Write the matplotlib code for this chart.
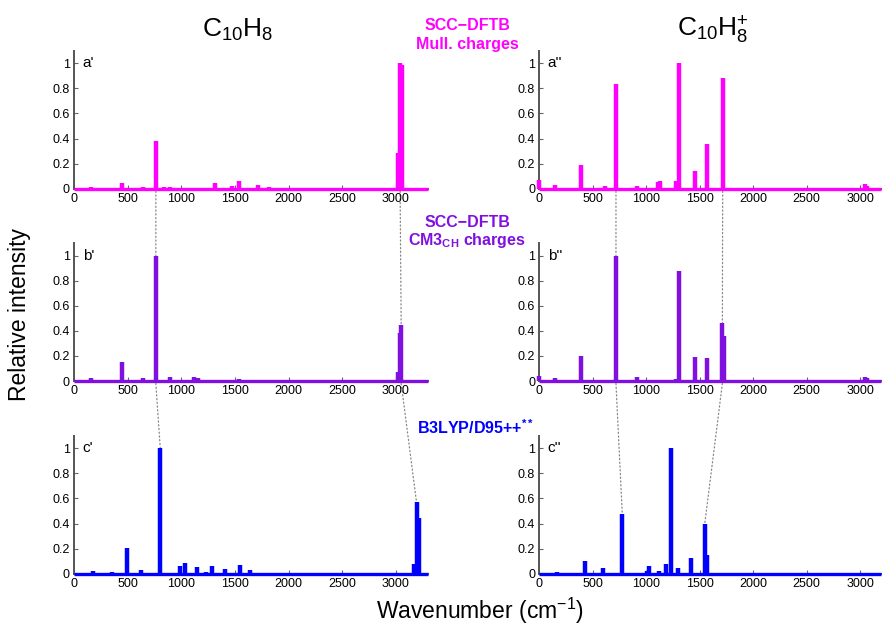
import matplotlib
matplotlib.use("Agg")
import matplotlib.pyplot as plt
from matplotlib.patches import ConnectionPatch

plt.rcParams['font.family'] = ['Liberation Sans', 'DejaVu Sans']
plt.rcParams['mathtext.fontset'] = 'custom'
plt.rcParams['mathtext.rm'] = 'Liberation Sans'
plt.rcParams['mathtext.it'] = 'Liberation Sans:italic'
plt.rcParams['mathtext.bf'] = 'Liberation Sans:bold'

# ---- data: peak positions (cm^-1) and relative intensities ----
a1_x = [159, 367, 452, 639, 763, 835, 897, 1110, 1318, 1473, 1536, 1716, 1816, 3016, 3040, 3056]
a1_y = [0.01, 0.005, 0.048, 0.015, 0.38, 0.01, 0.015, 0.005, 0.045, 0.025, 0.06, 0.03, 0.015, 0.285, 1.0, 0.99]

b1_x = [159, 367, 445, 639, 763, 897, 1115, 1156, 1536, 3016, 3037, 3050]
b1_y = [0.02, 0.01, 0.155, 0.02, 1.0, 0.03, 0.035, 0.025, 0.015, 0.07, 0.385, 0.445]

c1_x = [181, 358, 498, 629, 804, 991, 1031, 1146, 1234, 1287, 1411, 1548, 1639, 3171, 3193, 3218]
c1_y = [0.025, 0.015, 0.205, 0.03, 1.0, 0.06, 0.085, 0.055, 0.012, 0.065, 0.038, 0.073, 0.027, 0.077, 0.57, 0.447]

a2_x = [0, 147, 387, 614, 717, 823, 910, 1107, 1132, 1275, 1303, 1456, 1572, 1715, 3046, 3068]
a2_y = [0.066, 0.026, 0.19, 0.02, 0.833, 0.005, 0.02, 0.05, 0.058, 0.06, 1.0, 0.145, 0.357, 0.886, 0.04, 0.025]

b2_x = [0, 147, 387, 614, 717, 910, 1135, 1275, 1303, 1456, 1572, 1712, 1731, 3046, 3068]
b2_y = [0.042, 0.026, 0.2, 0.01, 1.0, 0.034, 0.01, 0.016, 0.88, 0.188, 0.18, 0.466, 0.363, 0.034, 0.026]

c2_x = [162, 430, 599, 776, 1004, 1029, 1119, 1182, 1232, 1297, 1422, 1547, 1568]
c2_y = [0.016, 0.1, 0.042, 0.474, 0.018, 0.06, 0.02, 0.08, 1.0, 0.048, 0.127, 0.397, 0.146]

panel_labels = ["a'", "b'", "c'", "a''", "b''", "c''"]
x_ticks = [0, 500, 1000, 1500, 2000, 2500, 3000]
y_ticks = [0, 0.2, 0.4, 0.6, 0.8, 1]
y_ticklabels = ['0', '0.2', '0.4', '0.6', '0.8', '1']

# links between panels: (upper peak x, (lower peak x, lower peak height))
links_left = [(a1_x[4], (b1_x[4], b1_y[4])), (a1_x[14], (b1_x[11], b1_y[11]))]
links_left2 = [(b1_x[4], (c1_x[4], c1_y[4])), (b1_x[11], (c1_x[14], c1_y[14]))]
links_right = [(a2_x[4], (b2_x[4], b2_y[4])), (a2_x[13], (b2_x[11], b2_y[11]))]
links_right2 = [(b2_x[4], (c2_x[3], c2_y[3])), (b2_x[11], (c2_x[11], c2_y[11]))]

magenta = '#FF00FF'
purple = '#8010E0'
blue = '#0000FF'

W, H = 882, 629
fig = plt.figure(figsize=(W / 100, H / 100), dpi=100)

def axrect(x0, x1, ytop, ybot):
    return [x0 / W, 1 - ybot / H, (x1 - x0) / W, (ybot - ytop) / H]

rows = [(50.7, 188.7), (243.3, 381.0), (435.7, 573.7)]
left_cols = (74, 428, 3300)
right_cols = (539.3, 881.5, 3200)

datasets = [
    (left_cols, rows[0], a1_x, a1_y, magenta, panel_labels[0]),
    (left_cols, rows[1], b1_x, b1_y, purple, panel_labels[1]),
    (left_cols, rows[2], c1_x, c1_y, blue, panel_labels[2]),
    (right_cols, rows[0], a2_x, a2_y, magenta, panel_labels[3]),
    (right_cols, rows[1], b2_x, b2_y, purple, panel_labels[4]),
    (right_cols, rows[2], c2_x, c2_y, blue, panel_labels[5]),
]

axes = []
for (x0, x1, xmax), (yt, yb), xs, ys, col, lab in datasets:
    ax = fig.add_axes(axrect(x0, x1, yt, yb))
    ax.set_xlim(0, xmax)
    ax.set_ylim(0, 1.1)
    lc = ax.vlines(xs, 0, ys, colors=col, linewidth=3.2, clip_on=False, zorder=3)
    lc.set_capstyle('butt')
    ax.plot([0, xmax], [0, 0], color=col, linewidth=2.4, clip_on=False, zorder=3,
            solid_capstyle='butt')
    ax.set_xticks(x_ticks)
    ax.set_yticks(y_ticks)
    ax.set_yticklabels(y_ticklabels)
    for s in ['top', 'right']:
        ax.spines[s].set_visible(False)
    for s in ['left', 'bottom']:
        ax.spines[s].set_color('#555555')
        ax.spines[s].set_linewidth(1.4)
    ax.tick_params(direction='in', length=3, width=0.8, color='#666666',
                   labelsize=9, pad=3)
    ax.patch.set_alpha(0)
    ax.text(0.025, 1.0, lab, transform=ax.get_yaxis_transform(),
            fontsize=11, va='center', ha='left')
    axes.append(ax)

def add_links(ax_up, ax_low, links):
    for ux, (lx, lh) in links:
        con = ConnectionPatch(xyA=(ux, -0.02), coordsA=ax_up.transData,
                              xyB=(lx, lh), coordsB=ax_low.transData,
                              linestyle=(0, (1, 2)), color='#888888', linewidth=0.9,
                              zorder=0)
        fig.add_artist(con)

add_links(axes[0], axes[1], links_left)
add_links(axes[1], axes[2], links_left2)
add_links(axes[3], axes[4], links_right)
add_links(axes[4], axes[5], links_right2)

# titles
fig.text(238 / W, 1 - 37 / H, r'C$_{10}$H$_{8}$', fontsize=19, ha='center', va='baseline')
fig.text(713 / W, 1 - 37 / H, r'C$_{10}$H$_{8}^{+}$', fontsize=19, ha='center', va='baseline')

# method labels
fig.text(467 / W, 1 - 25 / H, 'SCC\u2212DFTB', color=magenta, fontsize=11.5,
         fontweight='bold', ha='center', va='center')
fig.text(467 / W, 1 - 44 / H, 'Mull. charges', color=magenta, fontsize=11.5,
         fontweight='bold', ha='center', va='center')
fig.text(467 / W, 1 - 222 / H, 'SCC\u2212DFTB', color=purple, fontsize=11.5,
         fontweight='bold', ha='center', va='center')
fig.text(467 / W, 1 - 245 / H, r'CM3$_{\mathbf{CH}}$ charges', color=purple, fontsize=11.5,
         fontweight='bold', ha='center', va='baseline')
fig.text(475 / W, 1 - 428 / H, r'B3LYP/D95++$^{\mathbf{**}}$', color=blue, fontsize=11.5,
         fontweight='bold', ha='center', va='center')

# axis labels
fig.text(20 / W, 1 - 315 / H, 'Relative intensity', rotation=90, fontsize=16.5,
         ha='center', va='center')
fig.text(480 / W, 1 - 619 / H, r'Wavenumber (cm$^{\mathregular{-1}}$)', fontsize=16.5,
         ha='center', va='baseline')

fig.savefig('out.png', dpi=100)
